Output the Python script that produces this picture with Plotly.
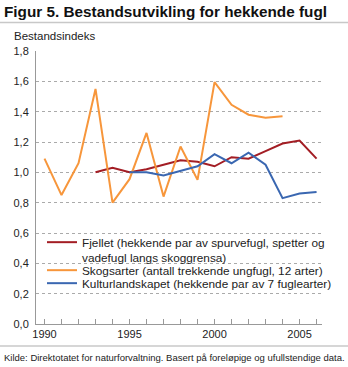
import plotly.graph_objects as go

years_fjell = list(range(1993, 2007))
fjellet = [1.00, 1.03, 1.00, 1.02, 1.05, 1.08, 1.07, 1.04, 1.10, 1.09, 1.14, 1.19, 1.21, 1.09]

years_skog = list(range(1990, 2005))
skogsarter = [1.09, 0.85, 1.06, 1.55, 0.80, 0.955, 1.26, 0.84, 1.17, 0.95, 1.595, 1.445, 1.38, 1.36, 1.37]

years_kultur = list(range(1995, 2007))
kultur = [1.00, 1.00, 0.98, 1.01, 1.04, 1.12, 1.06, 1.13, 1.05, 0.83, 0.86, 0.87]

tick_years = list(range(1990, 2007))
tick_labels = [str(y) if y % 5 == 0 else "" for y in tick_years]

names = [
    "Fjellet (hekkende par av spurvefugl, spetter og<br>vadefugl langs skoggrensa)",
    "Skogsarter (antall trekkende ungfugl, 12 arter)",
    "Kulturlandskapet (hekkende par av 7 fuglearter)",
]
colors = ["#a31d24", "#f7963b", "#3a67b1"]

W, H = 348, 367
L, R, T, B = 36, 26, 51, 43
PW, PH = W - L - R, H - T - B


def px(x):
    return (x - L) / PW


def py(y):
    return (H - B - y) / PH


font = "Liberation Sans, Arial, sans-serif"
legend_ids = ["legend", "legend2", "legend3"]
legend_tops = [228, 256, 269]

fig = go.Figure()
for xs, ys, nm, c, lid in zip([years_fjell, years_skog, years_kultur],
                              [fjellet, skogsarter, kultur], names, colors, legend_ids):
    fig.add_trace(go.Scatter(x=xs, y=ys, mode="lines", name=nm, legend=lid,
                             line=dict(color=c, width=2)))

legend_common = dict(xanchor="left", yanchor="top", bgcolor="rgba(0,0,0,0)",
                     font=dict(size=11.8, color="#222", family=font),
                     valign="top", itemwidth=30, tracegroupgap=0)

fig.update_layout(
    width=W, height=H,
    margin=dict(l=L, r=R, t=T, b=B),
    paper_bgcolor="white", plot_bgcolor="white",
    separators=", ",
    font=dict(family=font, size=11, color="#222"),
    showlegend=True,
    xaxis=dict(range=[1989.5, 2006.32], tickmode="array", tickvals=tick_years,
               ticktext=tick_labels, ticks="inside", ticklen=5, tickcolor="#999",
               showline=True, linecolor="#999", linewidth=1, showgrid=False,
               zeroline=False, tickfont=dict(size=11, color="#222")),
    yaxis=dict(range=[0, 1.8], dtick=0.2, tick0=0, tickformat=".1f",
               showgrid=True, gridcolor="#aaa", griddash="dot", gridwidth=1,
               showline=True, linecolor="#999", linewidth=1, ticks="",
               zeroline=False, ticklabelstandoff=4,
               tickfont=dict(size=11, color="#222")),
)
for lid, top in zip(legend_ids, legend_tops):
    fig.update_layout({lid: dict(x=px(42), y=py(top), **legend_common)})

fig.add_annotation(text="<b>Figur 5. Bestandsutvikling for hekkende fugl</b>",
                   x=px(2), y=py(11), xref="paper", yref="paper",
                   xanchor="left", yanchor="middle", showarrow=False,
                   font=dict(size=15.3, color="#111", family=font))
fig.add_annotation(text="Bestandsindeks", x=px(12), y=py(36), xref="paper", yref="paper",
                   xanchor="left", yanchor="middle", showarrow=False,
                   font=dict(size=11.5, color="#222", family=font))
fig.add_annotation(text="Kilde: Direktotatet for naturforvaltning. Basert på foreløpige og ufullstendige data.",
                   x=px(1.5), y=py(357), xref="paper", yref="paper",
                   xanchor="left", yanchor="middle", showarrow=False,
                   font=dict(size=9.5, color="#222", family=font))

for yy in (22.5, 346):
    fig.add_shape(type="line", xref="paper", yref="paper",
                  x0=px(0), x1=px(W), y0=py(yy), y1=py(yy),
                  line=dict(color="#c8c8c8", width=1.5))

fig.write_html("out.html")
